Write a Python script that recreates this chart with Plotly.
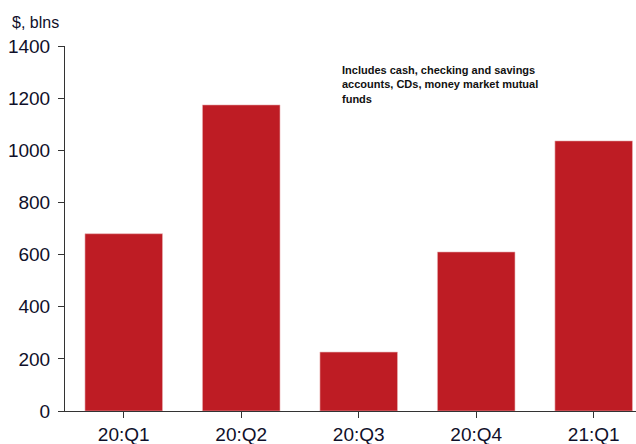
import plotly.graph_objects as go

categories = ["20:Q1", "20:Q2", "20:Q3", "20:Q4", "21:Q1"]
values = [680, 1174, 226, 610, 1036]
y_ticks = [0, 200, 400, 600, 800, 1000, 1200, 1400]

fig = go.Figure(go.Bar(
    x=list(range(len(categories))),
    y=values,
    marker=dict(color="#BE1C24", line=dict(color="#e9b3b5", width=0.6)),
    width=0.66,
))

fig.update_layout(
    width=636, height=444,
    margin=dict(l=65, r=0, t=46, b=33),
    paper_bgcolor="white", plot_bgcolor="white",
    font=dict(family="Liberation Sans, Arial, sans-serif", color="#10102a"),
    showlegend=False,
    bargap=0.34,
    xaxis=dict(
        range=[-0.5, 4.36],
        tickmode="array",
        tickvals=list(range(len(categories))),
        ticktext=categories,
        tickson="boundaries",
        ticks="outside", ticklen=6, tickcolor="#333",
        showline=True, linecolor="#333", linewidth=1,
        showgrid=False, zeroline=False,
        tickfont=dict(size=19),
        fixedrange=True,
    ),
    yaxis=dict(
        range=[0, 1400],
        tickmode="array", tickvals=y_ticks,
        ticks="outside", ticklen=6, tickcolor="#333",
        showline=True, linecolor="#333", linewidth=1,
        showgrid=False, zeroline=False,
        tickfont=dict(size=19),
        ticklabelstandoff=4,
    ),
    annotations=[
        dict(text="$, blns", x=10, y=22, xref="paper", yref="paper",
             showarrow=False, font=dict(size=16)),
        dict(text="<b>Includes cash, checking and savings<br>accounts, CDs, money market mutual<br>funds</b>",
             xref="x", yref="y", x=-0.5 + (340 - 65) / 117.5, y=1400 - (62 - 46) * 1400 / 365,
             xanchor="left", yanchor="top", align="left", showarrow=False,
             font=dict(size=11, color="#111111")),
    ],
)
# place "$, blns" in pixel terms via paper coords
fig.layout.annotations[0].update(xref="paper", yref="paper",
                                 x=(10 - 65) / 571, y=(444 - 22 - 33) / 365,
                                 xanchor="left", yanchor="middle")

fig.write_html("out.html")
